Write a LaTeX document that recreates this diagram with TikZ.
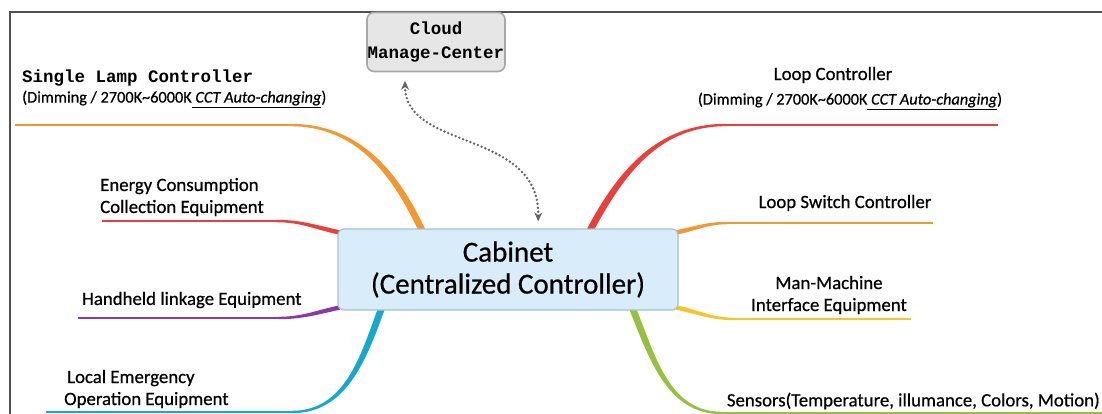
\documentclass[tikz,border=0pt]{standalone}
\usepackage{fontspec}
\newfontfamily\hpfont[FakeBold=0.6]{Carlito}
\newfontfamily\cnmono{Liberation Mono}
\usetikzlibrary{arrows.meta,positioning,backgrounds}
\definecolor{cabfill}{RGB}{216,236,249}
\definecolor{cabline}{RGB}{165,192,216}
\definecolor{cloudfill}{RGB}{230,230,230}
\definecolor{cloudline}{RGB}{168,168,168}
\definecolor{frameline}{RGB}{80,80,80}
\definecolor{brorange}{RGB}{242,152,50}
\definecolor{brred}{RGB}{232,64,58}
\definecolor{brpurple}{RGB}{138,58,165}
\definecolor{brcyan}{RGB}{24,168,206}
\definecolor{bryellow}{RGB}{246,196,44}
\definecolor{brgreen}{RGB}{150,192,64}

\begin{document}
\begin{tikzpicture}[
    x=1pt,y=1pt,
    lbl/.style={font=\hpfont\fontsize{18.8}{22}\selectfont,inner sep=0pt,align=left},
    sub/.style={font=\hpfont\fontsize{16.3}{19}\selectfont,inner sep=0pt},
    mono/.style={font=\cnmono\bfseries\fontsize{17.5}{24}\selectfont,inner sep=0pt,align=center},
    hub/.style={draw=cabline,line width=1.2pt,rounded corners=6pt,fill=cabfill,
                minimum width=340pt,minimum height=81pt,align=center,
                font=\hpfont\fontsize{29}{32}\selectfont},
    cloudbox/.style={draw=cloudline,line width=1.6pt,rounded corners=7pt,fill=cloudfill,
                     minimum width=138pt,minimum height=59pt},
    link/.style={black!60,line width=2.7pt,dash pattern=on 0pt off 4pt,line cap=round,
                 {Stealth[length=9pt,width=8pt]}-{Stealth[length=9pt,width=8pt]},
                 shorten <=7pt,shorten >=7pt}
  ]
  \useasboundingbox (0,0) rectangle (1102,-414);
  \draw[frameline,line width=1.2pt] (1102,-12) -- (10,-12) -- (10,-414);

  \node[hub] (cab) at (508,-269.5) {Cabinet\\(Centralized Controller)};
  \node[cloudbox,mono] (cloud) at (436,-42) {Cloud\\Manage-Center};
  \draw[link] ([xshift=-31pt,yshift=-1.5pt]cloud.south) .. controls +(0,-77) and +(2,99) .. ([xshift=30pt]cab.north);

  % left branches
  \node[mono,anchor=west] (sl) at (22,-78) {Single Lamp Controller};
  \node[sub,anchor=west] (sld) at (22,-99) {(Dimming / 2700K\textasciitilde6000K\underline{\textit{ CCT Auto-changing}})};
  \node[lbl,anchor=west] (ec) at (100,-197) {Energy Consumption\\Collection Equipment};
  \node[lbl,anchor=west] (hl) at (82,-300) {Handheld linkage Equipment};
  \node[lbl,anchor=west] (le) at (64,-389) {\hspace*{3pt}Local Emergency\\Operation Equipment};

  % right branches
  \node[lbl] (lc) at (833,-75) {Loop Controller};
  \node[sub] (lcd) at (850,-101) {(Dimming / 2700K\textasciitilde6000K\underline{\textit{ CCT Auto-changing}})};
  \node[lbl] (ls) at (845,-203) {Loop Switch Controller};
  \node[lbl,align=center] (mm) at (829,-295) {Man-Machine\\Interface Equipment};
  \node[lbl,anchor=east] (sn) at (1100,-401) {Sensors(Temperature, illumance, Colors, Motion)};

  \coordinate (sl-p) at ([xshift=-86pt,yshift=-2pt]cab.north);
  \coordinate (sl-k) at (290,-125);
  \coordinate (sl-e) at (15,-125);
  \coordinate (ec-p) at ([xshift=2pt,yshift=-4pt]cab.north west);
  \coordinate (ec-k) at (276,-221);
  \coordinate (ec-e) at (102,-221);
  \coordinate (hl-p) at ([xshift=2pt,yshift=3pt]cab.south west);
  \coordinate (hl-k) at (278,-318);
  \coordinate (hl-e) at (78,-318);
  \coordinate (le-p) at ([xshift=44pt,yshift=2pt]cab.south west);
  \coordinate (le-k) at (292,-412);
  \coordinate (le-e) at (46,-412);
  \coordinate (lc-p) at ([xshift=82pt,yshift=-2pt]cab.north);
  \coordinate (lc-k) at (726,-125);
  \coordinate (lc-e) at (998,-125);
  \coordinate (ls-p) at ([xshift=-2pt,yshift=-4pt]cab.north east);
  \coordinate (ls-k) at (728,-223);
  \coordinate (ls-e) at (933,-223);
  \coordinate (mm-p) at ([xshift=-2pt,yshift=3pt]cab.south east);
  \coordinate (mm-k) at (735,-319);
  \coordinate (mm-e) at (911,-319);
  \coordinate (sn-p) at ([xshift=-46pt,yshift=2pt]cab.south east);
  \coordinate (sn-k) at (722,-413);
  \coordinate (sn-e) at (1102,-413);

  \begin{scope}[on background layer]
    \foreach \col/\p/\o/\k/\i/\e/\w in {brorange/sl-p/115/sl-k/0/sl-e/3.4,
        brred/ec-p/168/ec-k/0/ec-e/2.2, brpurple/hl-p/192/hl-k/0/hl-e/2.2,
        brcyan/le-p/250/le-k/0/le-e/3.4, brred/lc-p/62/lc-k/180/lc-e/3.4,
        brorange/ls-p/12/ls-k/180/ls-e/2.2, bryellow/mm-p/-12/mm-k/180/mm-e/2.2,
        brgreen/sn-p/-68/sn-k/180/sn-e/3.4}{
      \fill[\col] ([shift={(\o+90:\w)}]\p) to[out=\o,in=\i] ([shift={(\i-90:1.2)}]\k)
        -- ([shift={(\i+90:1.2)}]\k) to[out=\i,in=\o] ([shift={(\o-90:\w)}]\p) -- cycle;
      \draw[\col,line width=2.4pt] (\k) -- (\e);
    }
  \end{scope}
\end{tikzpicture}
\end{document}
